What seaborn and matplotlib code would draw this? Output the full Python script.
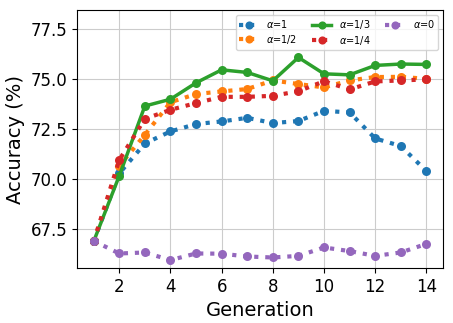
import numpy as np
import pandas as pd
import matplotlib
matplotlib.use("Agg")
import matplotlib.pyplot as plt
import seaborn as sns

generations = list(range(1, 15))
acc_a1 = [66.9, 70.3, 71.8, 72.4, 72.77, 72.9, 73.08, 72.82, 72.92, 73.43, 73.35, 72.05, 71.67, 70.42]
acc_a1_2 = [66.9, 70.68, 72.23, 73.86, 74.27, 74.4, 74.52, 74.95, 74.77, 74.6, 74.95, 75.12, 75.13, 75.03]
acc_a1_3 = [66.9, 70.18, 73.67, 74.01, 74.83, 75.48, 75.35, 74.93, 76.1, 75.28, 75.23, 75.7, 75.77, 75.75]
acc_a1_4 = [66.9, 70.97, 73.03, 73.48, 73.82, 74.13, 74.13, 74.18, 74.41, 74.91, 74.5, 74.9, 74.95, 75.0]
acc_a0 = [66.93, 66.3, 66.35, 65.97, 66.3, 66.29, 66.15, 66.1, 66.18, 66.6, 66.42, 66.18, 66.35, 66.78]

series = [
    (r"$\alpha$=1", acc_a1, "tab:blue", ":"),
    (r"$\alpha$=1/2", acc_a1_2, "tab:orange", ":"),
    (r"$\alpha$=1/3", acc_a1_3, "tab:green", "-"),
    (r"$\alpha$=1/4", acc_a1_4, "tab:red", ":"),
    (r"$\alpha$=0", acc_a0, "tab:purple", ":"),
]

fig, ax = plt.subplots(figsize=(4.53, 3.23), dpi=100)
for label, vals, color, ls in series:
    df = pd.DataFrame({"gen": generations, "acc": vals})
    sns.lineplot(data=df, x="gen", y="acc", ax=ax, color=color, linestyle=ls,
                 linewidth=2.5 if ls == "-" else 3, marker="o", markersize=6.5,
                 markeredgewidth=0, label=label)

ax.grid(True, color="#cccccc", linewidth=0.8)
ax.set_axisbelow(True)
ax.set_ylim(65.57, 78.47)
ax.set_xticks([2, 4, 6, 8, 10, 12, 14])
ax.set_yticks([67.5, 70.0, 72.5, 75.0, 77.5])
ax.tick_params(labelsize=12)
ax.set_xlabel("Generation", fontsize=14)
ax.set_ylabel("Accuracy (%)", fontsize=14)
ax.legend(loc="upper right", ncol=3, fontsize=7, handlelength=2, columnspacing=1.5,
          labelspacing=0.25, borderpad=0.35, markerscale=0.9)
fig.subplots_adjust(left=0.17, right=0.978, top=0.969, bottom=0.17)
fig.savefig("out.png", dpi=100)
